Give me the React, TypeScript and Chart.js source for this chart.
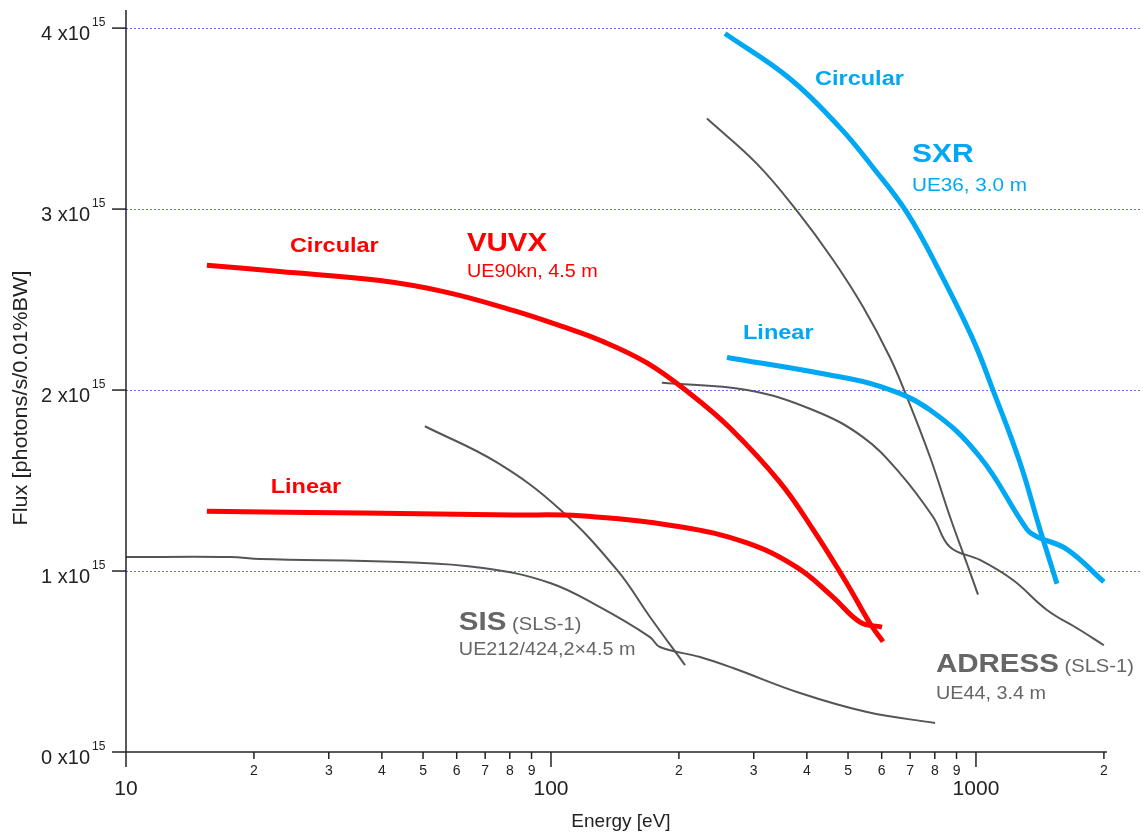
import React, { useEffect, useRef } from "react";
import { Chart, registerables } from "chart.js";

Chart.register(...registerables);

// ---- data (energy in eV, flux in units of 1e15 photons/s/0.01%BW) ----
const vuvxCircE = [15.5, 23.0, 39.6, 56.9, 81.4, 106.7, 130.4, 168.2, 212.4, 263.8, 345.8, 413.5, 497.3, 563.2, 604.2];
const vuvxCircF = [2.69, 2.655, 2.605, 2.54, 2.44, 2.35, 2.275, 2.15, 1.98, 1.79, 1.49, 1.23, 0.93, 0.71, 0.61];

const vuvxLinE = [15.5, 36.1, 81.4, 117.0, 201.2, 289.2, 379.2, 460.8, 533.5, 600.9];
const vuvxLinF = [1.33, 1.32, 1.31, 1.305, 1.245, 1.155, 1.02, 0.856, 0.718, 0.69];

const sxrCircE = [256.7, 365.1, 478.6, 572.4, 688.2, 822.9, 983.8, 1096.5, 1269, 1414.6, 1551];
const sxrCircF = [3.97, 3.72, 3.45, 3.23, 2.98, 2.65, 2.28, 2.0, 1.6, 1.23, 0.93];

const sxrLinE = [259.5, 436.5, 594.4, 779.6, 1022, 1318, 1391, 1637, 2000];
const sxrLinF = [2.18, 2.09, 2.02, 1.89, 1.63, 1.23, 1.19, 1.12, 0.94];

const sisLinE = [10, 17.6, 20.7, 44.1, 69.2, 99.5, 130.4, 171.0, 180.5, 224.2, 268.1, 385.4, 554.0, 801];
const sisLinF = [1.077, 1.077, 1.066, 1.05, 1.017, 0.934, 0.8, 0.635, 0.58, 0.525, 0.464, 0.326, 0.221, 0.16];

const sisCircE = [50.5, 74.6, 105.0, 143.0, 171.0, 206.7];
const sisCircF = [1.8, 1.6, 1.34, 1.006, 0.746, 0.48];

const adressLinE = [182.4, 289.2, 413.5, 542.1, 662.6, 792.1, 868.6, 1022, 1222, 1469, 1757, 2000];
const adressLinF = [2.04, 2.0, 1.89, 1.74, 1.54, 1.3, 1.133, 1.061, 0.95, 0.785, 0.674, 0.59];

const adressCircE = [232.8, 305.3, 379.2, 460.8, 542.1, 627.6, 688.2, 779.6, 868.6, 952.4, 1011];
const adressCircF = [3.5, 3.25, 2.99, 2.72, 2.46, 2.18, 1.96, 1.63, 1.3, 1.04, 0.87];

// ---- ticks ----
const xMajorTicks = [10, 100, 1000];
const xMajorLabels = ["10", "100", "1000"];
const xMinorTicks = [20, 30, 40, 50, 60, 70, 80, 90, 200, 300, 400, 500, 600, 700, 800, 900, 2000];
const xMinorLabels = ["2", "3", "4", "5", "6", "7", "8", "9", "2", "3", "4", "5", "6", "7", "8", "9", "2"];
const yTicks = [0, 1, 2, 3, 4];
const yTickLabels = ["0 x10", "1 x10", "2 x10", "3 x10", "4 x10"];
const yTickExp = "15";
const yGridTicks = [1, 2, 3, 4];

const xTitle = "Energy [eV]";
const yTitle = "Flux [photons/s/0.01%BW]";

const RED = "#ff0000";
const BLUE = "#00a8f3";
const GRAY = "#555555";
const TEXTGRAY = "#666666";

const FONT = '"Liberation Sans", Arial, sans-serif';

// annotations anchored in data coordinates
const notes = [
  { text: "Circular", e: 24.3, f: 2.807, size: 21, bold: true, sx: 1.12, color: RED },
  { text: "VUVX", e: 63.4, f: 2.818, size: 25, bold: true, sx: 1.18, color: RED },
  { text: "UE90kn, 4.5 m", e: 63.4, f: 2.663, size: 18, bold: false, sx: 1.1, color: RED },
  { text: "Linear", e: 21.9, f: 1.475, size: 21, bold: true, sx: 1.12, color: RED },
  { text: "Circular", e: 418, f: 3.729, size: 21, bold: true, sx: 1.12, color: BLUE },
  { text: "SXR", e: 707, f: 3.309, size: 25, bold: true, sx: 1.2, color: BLUE },
  { text: "UE36, 3.0 m", e: 707, f: 3.138, size: 18, bold: false, sx: 1.15, color: BLUE },
  { text: "Linear", e: 283, f: 2.326, size: 21, bold: true, sx: 1.12, color: BLUE },
  { text: "SIS", e: 60.7, f: 0.724, size: 25, bold: true, sx: 1.18, color: TEXTGRAY, suffix: " (SLS-1)" },
  { text: "UE212/424,2×4.5 m", e: 60.7, f: 0.569, size: 18, bold: false, sx: 1.1, color: TEXTGRAY },
  { text: "ADRESS", e: 805, f: 0.492, size: 25, bold: true, sx: 1.18, color: TEXTGRAY, suffix: " (SLS-1)" },
  { text: "UE44, 3.4 m", e: 805, f: 0.331, size: 18, bold: false, sx: 1.1, color: TEXTGRAY },
];

function pts(xs: number[], ys: number[]) {
  return xs.map((x, i) => ({ x, y: ys[i] }));
}

function ds(xs: number[], ys: number[], color: string, width: number) {
  return {
    data: pts(xs, ys),
    borderColor: color,
    borderWidth: width,
    pointRadius: 0,
    fill: false,
    tension: 0.4,
    borderCapStyle: "butt" as const,
    borderJoinStyle: "round" as const,
  };
}

function drawStretched(ctx: CanvasRenderingContext2D, text: string, x: number, y: number, font: string, color: string, sx: number, align: CanvasTextAlign) {
  ctx.save();
  ctx.font = font;
  ctx.fillStyle = color;
  ctx.textAlign = align;
  ctx.textBaseline = "alphabetic";
  ctx.translate(x, y);
  ctx.scale(sx, 1);
  ctx.fillText(text, 0, 0);
  const w = ctx.measureText(text).width * sx;
  ctx.restore();
  return w;
}

const decorPlugin = {
  id: "decor",
  beforeDatasetsDraw(chart: any) {
    const { ctx, chartArea } = chart;
    const y = chart.scales.y;
    ctx.save();
    ctx.strokeStyle = "#6b6bf0";
    ctx.lineWidth = 1;
    ctx.setLineDash([2, 2]);
    yGridTicks.forEach((v) => {
      const py = Math.round(y.getPixelForValue(v)) + 0.5;
      ctx.beginPath();
      ctx.moveTo(chartArea.left, py);
      ctx.lineTo(chartArea.right, py);
      ctx.stroke();
    });
    ctx.restore();
  },
  afterDatasetsDraw(chart: any) {
    const { ctx, chartArea } = chart;
    const x = chart.scales.x;
    const y = chart.scales.y;
    const x0 = x.getPixelForValue(10);
    const y0 = y.getPixelForValue(0);
    ctx.save();
    ctx.strokeStyle = "#222";
    ctx.lineWidth = 1.5;
    // y axis line
    ctx.beginPath();
    ctx.moveTo(x0, chartArea.top);
    ctx.lineTo(x0, y0);
    ctx.stroke();
    // x axis line
    ctx.beginPath();
    ctx.moveTo(x0, y0);
    ctx.lineTo(x.getPixelForValue(2000) + 3, y0);
    ctx.stroke();
    // y ticks
    yTicks.forEach((v, i) => {
      const py = y.getPixelForValue(v);
      ctx.beginPath();
      ctx.moveTo(x0 - 14, py);
      ctx.lineTo(x0, py);
      ctx.stroke();
      drawStretched(ctx, yTickLabels[i], x0 - 36, py + 12, `20px ${FONT}`, "#222", 1, "right");
      drawStretched(ctx, yTickExp, x0 - 34, py - 2, `12px ${FONT}`, "#222", 1, "left");
    });
    // x major ticks
    xMajorTicks.forEach((v, i) => {
      const px = x.getPixelForValue(v);
      ctx.beginPath();
      ctx.moveTo(px, y0);
      ctx.lineTo(px, y0 + 15);
      ctx.stroke();
      drawStretched(ctx, xMajorLabels[i], px, y0 + 43, `21px ${FONT}`, "#222", 1, "center");
    });
    xMinorTicks.forEach((v, i) => {
      const px = x.getPixelForValue(v);
      ctx.beginPath();
      ctx.moveTo(px, y0);
      ctx.lineTo(px, y0 + 7);
      ctx.stroke();
      drawStretched(ctx, xMinorLabels[i], px, y0 + 23, `14px ${FONT}`, "#222", 1, "center");
    });
    // titles
    drawStretched(ctx, xTitle, 621, y0 + 75, `19px ${FONT}`, "#222", 1, "center");
    ctx.save();
    ctx.translate(27, 398);
    ctx.rotate(-Math.PI / 2);
    drawStretched(ctx, yTitle, 0, 0, `21px ${FONT}`, "#222", 1.03, "center");
    ctx.restore();
    // annotations
    notes.forEach((n) => {
      const px = x.getPixelForValue(n.e);
      const py = y.getPixelForValue(n.f) + 0.358 * n.size;
      const w = drawStretched(ctx, n.text, px, py, `${n.bold ? "bold " : ""}${n.size}px ${FONT}`, n.color, n.sx, "left");
      if ((n as any).suffix) {
        drawStretched(ctx, (n as any).suffix, px + w, py, `18px ${FONT}`, n.color, 1.12, "left");
      }
    });
    ctx.restore();
  },
};

export default function App() {
  const ref = useRef<HTMLCanvasElement | null>(null);
  useEffect(() => {
    if (!ref.current) return;
    const chart = new Chart(ref.current, {
      type: "line",
      data: {
        datasets: [
          ds(sxrCircE, sxrCircF, BLUE, 5),
          ds(sxrLinE, sxrLinF, BLUE, 5),
          ds(vuvxCircE, vuvxCircF, RED, 5),
          ds(vuvxLinE, vuvxLinF, RED, 5),
          ds(sisLinE, sisLinF, GRAY, 2),
          ds(sisCircE, sisCircF, GRAY, 2),
          ds(adressLinE, adressLinF, GRAY, 2),
          ds(adressCircE, adressCircF, GRAY, 2),
        ] as any,
      },
      options: {
        animation: false,
        responsive: false,
        maintainAspectRatio: false,
        events: [],
        layout: { padding: { left: 126, right: 3, top: 10, bottom: 80 } },
        plugins: { legend: { display: false }, tooltip: { enabled: false } },
        scales: {
          x: { type: "logarithmic", min: 10, max: 2432, display: false },
          y: { type: "linear", min: 0, max: 4.1, display: false },
        },
      } as any,
      plugins: [decorPlugin],
    });
    return () => chart.destroy();
  }, []);
  return (
    <div style={{ position: "fixed", left: 0, top: 0, width: 1143, height: 832, background: "#fff" }}>
      <canvas ref={ref} width={1143} height={832} style={{ width: 1143, height: 832 }} />
    </div>
  );
}
